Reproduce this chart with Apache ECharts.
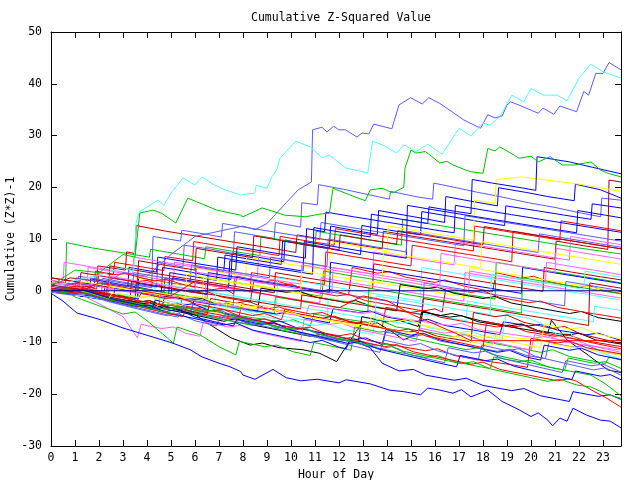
<!DOCTYPE html>
<html><head><meta charset="utf-8">
<script src="https://cdn.jsdelivr.net/npm/echarts@6/dist/echarts.min.js"></script>
<style>html,body{margin:0;padding:0;background:#fff}#c{width:640px;height:480px}</style>
</head><body><div id="c"></div>
<script>
// axis settings (hours 0..23.75, values -30..50)
const xMin = 0, xMax = 23.75, yMin = -30, yMax = 50;

// every line is a list of [hour, cumulative (Z*Z)-1] readings
// upper group
const U1 = [[0,0.5],[0.7,-0.2],[1.6,-1.0],[1.65,2.3],[2.8,1.3],[3.5,0.8],[4.6,-0.2],[4.65,4.5],[5.8,3.6],[6.9,2.6],[7.5,2.2],[7.55,7.3],[8.6,6.5],[9.7,5.6],[9.75,9.8],[10.9,8.8],[11.6,8.3],[11.65,12.5],[12.7,11.6],[13.6,10.9],[13.65,15.5],[14.5,14.8],[15.6,13.9],[16.4,13.2],[16.45,18.2],[17.5,17.3],[18.6,16.4],[18.65,19.9],[19.8,19],[20.7,18.2],[21.8,17.4],[21.85,20.6],[22.9,19.5],[23.75,17.9]];
const U2 = [[0,1],[1.2,0.1],[2.1,-0.6],[2.15,2.4],[3.3,1.4],[4.4,0.7],[4.45,5.5],[5.5,4.6],[5.55,8.8],[6.7,8],[7.6,7.2],[7.65,11.4],[8.8,10.5],[9.3,10.1],[9.35,13.2],[10.4,12.3],[10.45,17],[11.1,16.6],[11.15,20.5],[12.2,19.6],[13.3,18.5],[14.1,17.7],[14.15,19.2],[15.3,18.1],[15.9,17.7],[15.95,20.8],[16.9,19.9],[17.8,19],[18.7,18.2],[19.9,17],[21,16.1],[22.1,15],[22.9,14.3],[22.95,17.9],[23.75,17.5]];
const U3 = [[0,0],[1.1,-0.9],[2.3,-1.8],[2.35,-0.6],[3.6,-1.5],[3.65,2.5],[4.8,1.6],[6,0.7],[6.05,4.6],[7.2,3.7],[7.25,6.9],[8.4,6],[9.6,5.1],[9.65,9.6],[10.8,8.7],[12,7.8],[12.9,7],[12.95,12.6],[14.1,11.7],[15.4,10.8],[15.45,15.3],[16.6,14.4],[17.8,13.4],[18.9,12.6],[18.95,16.4],[20.2,15.5],[21.4,14.6],[22.5,13.8],[22.55,16.8],[23.75,16]];
const U4 = [[0,2],[1,1.1],[1.8,0.6],[1.85,3.8],[2.6,3.2],[2.65,5.5],[3.8,4.6],[4.7,3.9],[4.75,6.6],[5.9,5.8],[5.95,9.5],[7.1,8.6],[8.3,7.7],[9.5,6.8],[9.55,10.5],[10.7,9.6],[11.8,8.8],[11.85,12],[13,11.1],[14.2,10.2],[15.4,9.3],[16.5,8.5],[17.6,7.7],[17.65,12.5],[18.8,11.6],[20,10.7],[21.2,9.8],[21.25,13.5],[22.4,12.6],[23.75,11.6]];
const U5 = [[0,0.5],[0.6,0],[0.65,9.3],[1.7,8.3],[2.9,7.4],[4.1,6.5],[4.15,8],[5.3,7.1],[6.4,6.2],[6.45,8.5],[7.6,7.6],[8.7,6.8],[8.75,10.5],[9.9,9.6],[11,8.8],[11.05,11.5],[12.2,10.6],[13.4,9.7],[14.6,8.8],[14.65,13.8],[15.8,12.9],[17,12],[18.2,11.1],[19.4,10.2],[20.6,9.3],[21.8,8.4],[23,7.6],[23.75,7.1]];
const U6 = [[0,1],[0.8,2.5],[1.9,1.8],[1.95,4.8],[3.1,4],[3.15,7.5],[3.5,7.2],[3.55,12.6],[4.8,11.5],[6,10.6],[7.2,9.7],[8.4,8.8],[9.6,7.9],[10.2,7.4],[10.25,10.8],[11.4,9.9],[12.6,9],[13.8,8.1],[13.85,11.5],[15,10.6],[16.2,9.7],[17.4,8.8],[18.6,7.9],[19.8,7],[21,6.1],[21.05,9.6],[22.2,8.7],[23.2,8],[23.25,21.4],[23.75,21]];
const U7 = [[0,0.5],[1.2,-0.4],[1.25,1.5],[2.4,0.6],[3.5,-0.2],[3.55,2.5],[4.7,1.6],[5.8,0.8],[5.85,4.5],[7,3.6],[8.1,2.8],[8.15,6.5],[9.3,5.6],[10.5,4.7],[11.6,3.9],[11.65,9.5],[12.8,8.6],[14,7.7],[14.05,12.5],[15.2,11.6],[16.4,10.7],[17.6,9.8],[17.65,17.5],[18.5,16.9],[18.55,21.5],[19.6,22],[20.8,21.3],[22,20.6],[23,19.8],[23.75,19.2]];
const U8 = [[0,0],[0.9,1.5],[1.5,1],[1.55,4.5],[2.7,3.6],[3.9,2.7],[5.1,1.8],[5.15,5.5],[6.3,4.6],[7.5,3.7],[8.6,2.9],[8.65,6.8],[9.8,5.9],[11,5],[12.2,4.1],[13.4,3.2],[13.45,7.5],[14.6,6.6],[15.8,5.7],[16.8,5],[16.85,9.5],[18,8.6],[19.2,7.7],[20.4,6.8],[21.6,5.9],[21.65,10.5],[22.8,9.6],[23.75,8.9]];
const U9 = [[0,0.8],[1.1,0],[1.15,2.8],[2.3,2],[3.5,1.1],[4.2,0.6],[4.25,10.5],[5.4,9.6],[5.45,11.7],[6.6,10.8],[7.1,10.4],[7.15,13],[8.3,12.1],[9.5,11.2],[10.7,10.3],[11.2,9.9],[11.25,13.2],[12.4,12.3],[13.6,11.4],[14.8,10.5],[16,9.6],[17.2,8.7],[17.25,14.5],[18.4,13.6],[19.6,12.7],[20.8,11.8],[22,10.9],[23.2,10],[23.75,9.6]];
const U10 = [[0,0],[1.3,-1],[1.35,1.5],[2.5,0.6],[3.7,-0.3],[4.9,-1.2],[4.95,3.5],[6.1,2.6],[6.9,2],[6.95,6.5],[8.1,5.6],[9.3,4.7],[10.5,3.8],[10.55,9.5],[11.7,8.6],[12.9,7.7],[14.1,6.8],[14.8,6.3],[14.85,16.5],[16,15.6],[17.2,14.7],[18.4,13.8],[19.6,12.9],[20.8,12],[21.9,11.2],[21.95,15.5],[23.1,14.6],[23.75,14.1]];
const U11 = [[0,0.3],[1.2,-0.6],[2.3,-1.4],[2.35,1.5],[3.5,0.6],[4.7,-0.3],[4.75,2.5],[5.9,1.6],[7.1,0.7],[8.3,-0.2],[8.35,3.5],[9.5,2.6],[10.7,1.7],[11.4,1.2],[11.45,7.5],[12.6,6.6],[13.8,5.7],[15,4.8],[15.05,8.8],[16.2,7.9],[17.4,7],[18.6,6.1],[19.2,5.6],[19.25,11.5],[20.4,10.6],[21.6,9.7],[22.8,8.8],[23.75,8.1]];
const U12 = [[0,0],[1.1,-0.9],[2.2,-1.7],[2.25,1.5],[3.2,0.8],[3.25,4.5],[4.4,3.6],[4.45,6.5],[5.6,5.6],[6.8,4.7],[7.7,4],[7.75,8.5],[8.9,7.6],[10.1,6.7],[10.6,6.3],[10.65,12],[11.4,11.4],[11.45,15.2],[12.6,14.3],[13.8,13.4],[15,12.5],[16.2,11.6],[16.8,11.2],[16.85,16.5],[18,15.6],[19.2,14.7],[20.4,13.8],[21.6,12.9],[22.8,12],[23.75,11.3]];
const U13 = [[0,0.5],[1,-0.3],[1.05,2.5],[2.2,1.6],[3.4,0.7],[3.45,3.5],[4.6,2.6],[5.8,1.7],[5.85,5],[7,4.1],[8.2,3.2],[9.1,2.5],[9.15,6.5],[10.3,5.6],[11.5,4.7],[11.55,10],[12.7,9.1],[13.9,8.2],[14.8,7.5],[14.85,11.5],[16,10.6],[17.2,9.7],[18.4,8.8],[19.6,7.9],[20.3,7.4],[20.35,11],[21.5,10.1],[22.7,9.2],[23.75,8.4]];
const U14 = [[0,2.5],[1.2,1.6],[1.25,3.5],[2.4,2.6],[3.6,1.7],[3.65,5.8],[4.8,4.9],[6,4],[6.05,8.2],[7.2,7.3],[8.4,6.4],[8.45,10.6],[9.6,9.7],[10.8,8.8],[12,7.9],[12.05,10.8],[13.2,9.9],[14.4,9],[14.45,11.6],[15.6,10.7],[16.8,9.8],[18,8.9],[18.05,12.4],[19.2,11.5],[20.4,10.6],[21.6,9.7],[22.8,8.8],[23.75,8.1]];
const U15 = [[0,0],[1.3,-1],[2.6,-2],[2.65,0.5],[3.8,-0.4],[5,-1.3],[5.05,2.5],[6.2,1.6],[7.4,0.7],[7.45,5.8],[8.6,4.9],[9.8,4],[10.9,3.2],[10.95,12.2],[12.1,11.3],[13.3,10.4],[13.35,14.8],[14.5,13.9],[15.7,13],[15.75,16.2],[16.9,15.3],[17.5,14.9],[17.55,21.5],[18.4,20.8],[19.6,19.9],[20.2,19.4],[20.25,25.9],[21.6,24.9],[22.8,23.6],[23.75,22.6]];

// middle group
const M1 = [[0,1.5],[0.6,1.2],[1.1,1.4],[1.9,0.3],[2,3.5],[2.6,3.1],[3.1,3.3],[4.3,1.9],[4.8,2.2],[5.5,1.2],[6.7,0.2],[7.2,0.5],[7.6,-0.6],[7.75,2.8],[8.8,1.7],[9.3,2],[10,1.1],[11.2,-0.2],[11.6,0.3],[12.4,-0.8],[12.55,4.5],[13.6,3.4],[14.1,3.7],[14.8,2.6],[16,1.6],[16.4,2.1],[17.2,0.9],[18.4,-0.2],[18.55,3.5],[19.6,2.4],[20.1,2.8],[20.8,1.7],[22,0.6],[22.4,1],[23.2,-0.1],[23.75,-0.5]];
const M2 = [[0,0],[1.2,-0.9],[2.4,-1.8],[3.6,-2.7],[3.65,0.5],[4.8,-0.4],[6,-1.3],[6.5,-1.7],[6.55,2.5],[7.7,1.6],[8.9,0.7],[10.1,-0.2],[11.3,-1.1],[11.35,3.8],[12.5,2.9],[13.7,2],[14.9,1.1],[16.1,0.2],[17.3,-0.7],[18.5,-1.6],[18.55,5.5],[19.7,4.6],[20.9,3.7],[22.1,2.8],[23.3,1.9],[23.75,1.5]];
const M3 = [[0,0.5],[1.2,-0.4],[2.4,-1.3],[3.6,-2.2],[4.3,-2.7],[4.35,1.5],[5.5,0.6],[6.7,-0.3],[7.9,-1.2],[9.1,-2.1],[9.4,-2.3],[9.45,2.5],[10.6,1.6],[11.8,0.7],[13,-0.2],[14.2,-1.1],[15.4,-2],[15.45,4.5],[16.6,3.6],[17.8,2.7],[19,1.8],[20.2,0.9],[21.4,0],[22.6,-0.9],[23.75,-1.8]];
const M4 = [[0,2.5],[1.2,1.6],[2.4,0.7],[2.45,4.8],[3.6,3.9],[4.8,3],[6,2.1],[7.2,1.2],[8.4,0.3],[9.3,-0.4],[9.35,3.5],[10.5,2.6],[11.7,1.7],[12.9,0.8],[13.4,0.4],[13.45,5.2],[14.6,4.3],[15.8,3.4],[17,2.5],[18.2,1.6],[19.4,0.7],[20.5,-0.1],[20.55,4.5],[21.7,3.6],[22.9,2.7],[23.75,2.1]];
const M5 = [[0,0],[1.1,-0.9],[1.15,1.5],[2.3,0.6],[3.5,-0.3],[4.7,-1.2],[5.9,-2.1],[6.4,-2.4],[6.45,1.2],[7.6,0.3],[8.8,-0.6],[10,-1.5],[11.2,-2.4],[11.25,2.5],[12.4,1.6],[13.6,0.7],[14.8,-0.2],[16,-1.1],[17.2,-2],[17.25,3.5],[18.4,2.6],[19.6,1.7],[20.8,0.8],[22,-0.1],[23.2,-1],[23.75,-1.4]];
const M6 = [[0,0.5],[1.2,-0.4],[2.4,-1.3],[2.45,0.8],[3.6,-0.1],[4.8,-1],[6,-1.9],[6.3,-2.1],[6.35,2.5],[7.5,1.6],[8.7,0.7],[9.9,-0.2],[11.1,-1.1],[12.3,-2],[13.3,-2.7],[13.35,1.8],[14.5,0.9],[15.7,0],[16.9,-0.9],[17.4,-1.3],[17.45,4.5],[18.6,3.6],[19.8,2.7],[21,1.8],[22.2,0.9],[23.4,0],[23.75,-0.3]];
const M7 = [[0,0],[0.8,-0.4],[1.3,-0.1],[2.4,-1.5],[3.6,-2.6],[4.6,-3.5],[4.75,-1],[5.8,-1.8],[6.3,-1.5],[7,-2.8],[8.2,-3.8],[8.6,-4.1],[8.75,0.5],[9.8,-0.3],[10.3,0],[11,-1.2],[12.2,-2.2],[12.7,-1.9],[13.4,-3.1],[14.4,-3.9],[14.55,1.2],[15.6,0.4],[16.1,0.7],[16.8,-0.5],[18,-1.5],[18.5,-1.1],[19.2,-2.4],[20.4,-3.4],[21.6,-4.4],[22.1,-4],[22.8,-5.2],[23.75,-5.9]];
const M8 = [[0,1],[1.2,0.1],[2.4,-0.8],[3.5,-1.6],[3.55,1.5],[4.7,0.6],[5.9,-0.3],[6.5,-0.7],[6.55,3.5],[7.7,2.6],[8.9,1.7],[10.1,0.8],[11.3,-0.1],[11.6,-0.3],[11.65,5.5],[12.8,4.6],[14,3.7],[15.2,2.8],[16.4,1.9],[17.6,1],[18.8,0.1],[19.6,-0.5],[19.65,4.5],[20.8,3.6],[22,2.7],[23.2,1.8],[23.75,1.4]];
const M9 = [[0,0.3],[1.2,-0.6],[2.4,-1.5],[3.6,-2.4],[4.5,-3.1],[4.55,-0.5],[5.7,-1.4],[6.9,-2.3],[7.6,-2.8],[7.65,2.8],[8.8,1.9],[10,1],[11.2,0.1],[12.4,-0.8],[13.6,-1.7],[14.8,-2.6],[15.5,-3.1],[15.55,1.5],[16.7,0.6],[17.9,-0.3],[19.1,-1.2],[20.3,-2.1],[21.4,-2.9],[21.45,1.8],[22.6,0.9],[23.75,0]];
const M10 = [[0,0.8],[0.7,0.4],[1.2,0.6],[2.3,-0.7],[2.45,2.5],[3.5,1.7],[4,2],[4.7,0.7],[5.9,-0.3],[6.4,0],[7.1,-1.2],[8.3,-2.2],[8.45,1.8],[9.5,1],[10,1.3],[10.7,0],[11.9,-1],[12.4,-0.7],[13.1,-1.9],[14.3,-2.9],[15.5,-3.9],[16,-3.5],[16.3,-4.1],[16.45,0.5],[17.5,-0.3],[18,0],[18.7,-1.3],[19.9,-2.3],[20.4,-2],[21.1,-3.2],[22.3,-4.2],[23.75,-5.3]];
const M11 = [[0,0.5],[1.2,-0.4],[2.4,-1.3],[3.6,-2.2],[4.8,-3.1],[5.4,-3.6],[5.45,-1.5],[6.6,-2.4],[7.8,-3.3],[9,-4.2],[9.3,-4.4],[9.35,-1.2],[10.5,-2.1],[11.7,-3],[12.9,-3.9],[13.2,-4.1],[13.25,0.5],[14.4,-0.4],[15.6,-1.3],[16.8,-2.2],[18,-3.1],[19.2,-4],[19.6,-4.3],[19.65,2.5],[20.8,1.6],[22,0.7],[23.2,-0.2],[23.75,-0.6]];
const M12 = [[0,0],[1.2,-0.9],[2.4,-1.8],[3.6,-2.7],[4.8,-3.6],[6,-4.5],[6.4,-4.8],[6.45,-2.5],[7.6,-3.4],[8.8,-4.3],[10,-5.2],[11.2,-6.1],[11.5,-6.3],[11.55,-1.5],[12.7,-2.4],[13.9,-3.3],[15.1,-4.2],[16.3,-5.1],[17.3,-5.8],[17.35,-2],[18.5,-2.9],[19.7,-3.8],[20.9,-4.7],[22.1,-5.6],[22.6,-6],[22.65,-3],[23.75,-3.8]];
const M13 = [[0,1.2],[1.2,0.3],[2.4,-0.6],[3.3,-1.3],[3.35,1.8],[4.5,0.9],[5.7,0],[6.9,-0.9],[8.1,-1.8],[9.3,-2.7],[10.4,-3.5],[10.45,-0.8],[11.6,-1.7],[12.8,-2.6],[14,-3.5],[15.2,-4.4],[15.45,-4.6],[15.5,-1.5],[16.7,-2.4],[17.9,-3.3],[19.1,-4.2],[20.3,-5.1],[21.5,-6],[22.4,-6.7],[22.45,1.5],[23.75,0.5]];
const M14 = [[0,2],[0.5,1.6],[0.55,5.5],[1.7,4.6],[2.9,3.7],[3.4,3.3],[3.45,6.5],[4.6,5.6],[5.8,4.7],[7,3.8],[8.2,2.9],[9.4,2],[10.4,1.3],[10.45,5],[11.6,4.1],[12.8,3.2],[14,2.3],[15.2,1.4],[16.4,0.5],[17.4,-0.2],[17.45,3.8],[18.6,2.9],[19.8,2],[20.6,1.4],[20.65,5.5],[21.8,4.6],[23,3.7],[23.75,3.1]];
const M15 = [[0,0],[1.2,-0.9],[1.25,1.8],[2.4,0.9],[3.6,0],[4.8,-0.9],[5.6,-1.5],[5.65,3.2],[6.8,2.3],[8,1.4],[9.2,0.5],[10.4,-0.4],[10.45,3.8],[11.6,2.9],[12.8,2],[13.8,1.3],[13.85,7.5],[15,6.6],[16.2,5.7],[17.4,4.8],[17.9,4.4],[17.95,9.5],[19.1,8.6],[20.3,7.7],[21.5,6.8],[22.7,5.9],[23.75,5.1]];
const M16 = [[0,1.5],[1.2,0.6],[2.4,-0.3],[2.45,2.8],[3.6,1.9],[4.8,1],[6,0.1],[6.05,3.6],[7.2,2.7],[8.4,1.8],[9.6,0.9],[10.8,0],[11.7,-0.7],[11.75,4.5],[12.9,3.6],[14.1,2.7],[15.3,1.8],[16.2,1.1],[16.25,7.2],[17.4,6.3],[18.6,5.4],[19.8,4.5],[21,3.6],[21.05,8.2],[22.2,7.3],[23.4,6.4],[23.75,6.1]];
const M17 = [[0,0.5],[1.2,-0.4],[2.4,-1.3],[3.6,-2.2],[4.8,-3.1],[6,-4],[6.8,-4.6],[6.85,-0.5],[8,-1.4],[9.2,-2.3],[10.4,-3.2],[11.6,-4.1],[12.8,-5],[13.5,-5.5],[13.55,-1],[14.7,-1.9],[15.9,-2.8],[17.1,-3.7],[18.3,-4.6],[18.35,3.2],[19.5,2.3],[20.7,1.4],[21.9,0.5],[22.2,0.3],[22.25,3.8],[23.75,2.6]];

// lower group
const L1 = [[0,0],[0.8,-0.3],[1.3,-1.1],[1.8,-0.7],[2.6,-1.9],[3.4,-2.3],[4.2,-3.3],[4.7,-2.9],[5.8,-4.3],[5.95,-2],[6.8,-2.7],[7.3,-2.4],[8.2,-3.6],[9.4,-4.5],[9.9,-4.1],[10.6,-5.3],[11.6,-6.2],[11.75,-3.5],[12.8,-4.2],[13.3,-3.9],[14,-5.1],[15.2,-6],[15.7,-5.5],[16.4,-6.7],[17.6,-7.6],[18.7,-8.5],[18.85,-6],[19.9,-6.8],[20.4,-6.5],[21.1,-7.6],[22.3,-8.5],[22.8,-8.2],[23.75,-9.6]];
const L2 = [[0,0.5],[0.9,0.1],[1.4,-0.6],[2.4,-1.4],[2.9,-1],[3.6,-2.4],[4.8,-3.4],[5.3,-3],[6,-4.3],[7.2,-5.2],[7.8,-5.7],[7.95,-2.5],[9,-3.5],[9.5,-3.1],[10.2,-4.4],[11.4,-5.4],[12.6,-6.3],[13.1,-6],[13.8,-7.1],[13.95,-3.2],[15,-4.2],[15.5,-3.8],[16.2,-5.1],[17.4,-6.1],[18.6,-7],[19.1,-6.6],[19.8,-7.9],[21,-8.8],[21.5,-8.4],[22.2,-9.6],[23.75,-10.8]];
const L3 = [[0,0],[0.7,0.4],[1.2,-0.5],[2.4,-1.1],[2.9,-0.7],[3.6,-1.9],[4.8,-2.7],[6,-3.4],[6.5,-3],[7.2,-4.3],[8.4,-5.2],[9.6,-6],[10.1,-5.6],[10.8,-6.8],[10.95,-4.5],[12,-5.3],[13.2,-6.1],[13.7,-5.7],[14.4,-7],[15.6,-7.9],[16.8,-8.9],[17.3,-8.4],[18,-9.8],[19.2,-10.8],[20.4,-11.9],[20.9,-11.4],[21.6,-12.7],[22.8,-13.8],[23.1,-14.1],[23.25,-12.8],[23.75,-13.4]];
const L4 = [[0,0.2],[0.8,-0.2],[1.2,0.1],[2.4,-1.3],[3.6,-2.2],[4.1,-1.9],[4.8,-3.2],[6,-4.6],[6.6,-6.5],[7.5,-9.1],[8.3,-10.5],[8.8,-10.1],[9.5,-11],[10.5,-11.4],[11.2,-12.1],[11.9,-13.7],[12.1,-12.2],[12.9,-6.6],[13.6,-6.2],[14.2,-7.9],[14.7,-9.5],[15.3,-8.2],[15.5,-4],[16.2,-4.8],[16.7,-4.4],[17.9,-5.8],[19.1,-6.8],[19.6,-6.4],[20.3,-7.7],[21.5,-8.6],[22,-8.2],[22.7,-9.5],[23.75,-10.3]];
const L5 = [[0,0],[1,-0.5],[1.5,-0.2],[2.4,-1.5],[3.6,-2.7],[4.1,-2.3],[4.8,-3.6],[6,-4.7],[7.2,-5.9],[7.7,-5.4],[8.4,-6.6],[9.6,-7.7],[10.8,-8.8],[11.3,-8.4],[12,-9.4],[12.8,-10],[12.95,-5],[14,-6],[14.5,-5.7],[15.3,-6.9],[15.45,-4.1],[16.6,-5.1],[17.1,-4.8],[17.8,-6],[19,-6.9],[20.2,-7.8],[20.7,-8.2],[20.85,-5.7],[21.5,-9.5],[22.4,-12.5],[23.2,-15.3],[23.75,-15.8]];
const L6 = [[0,0.5],[0.9,-0.5],[1.4,-0.1],[2.4,-1.4],[3.6,-2.5],[4.8,-3.6],[5.3,-3.2],[6,-4.4],[7.2,-5.5],[8.4,-6.6],[8.9,-6.1],[9.6,-7.3],[10.8,-8.4],[12,-9.5],[12.5,-9],[13.2,-10.2],[13.8,-10.7],[13.95,-8],[15,-8.9],[15.5,-8.5],[16.2,-9.7],[17.4,-10.7],[18.6,-11.7],[19.1,-11.3],[19.8,-12.5],[20.6,-13.1],[20.75,-10],[21.8,-10.9],[22.3,-10.5],[23,-11.8],[23.75,-12.4]];
const L7 = [[0,0],[0.8,-0.5],[1.3,-0.2],[2.4,-1.5],[2.6,-1.7],[2.75,-0.5],[3.8,-1.3],[4.3,-1],[5,-2.1],[6.2,-3],[7.4,-4],[7.9,-3.6],[8.6,-4.8],[9.8,-5.7],[11,-6.7],[11.5,-6.3],[12.2,-7.5],[13.4,-8.4],[13.55,-5.5],[14.6,-6.3],[15.1,-6],[15.8,-7.2],[17,-8.1],[17.5,-7.8],[18.2,-9],[18.8,-9.5],[18.95,-4.5],[19.9,-5.3],[20.5,-6.5],[21.1,-8.5],[21.6,-8.1],[22.3,-11],[23.75,-13.2]];
const L8 = [[0,0.3],[1,-0.3],[1.5,0.1],[2.4,-1.2],[3.6,-2.3],[4.1,-1.9],[4.8,-3.1],[6,-4.1],[6.5,-4.6],[6.65,-1.5],[7.7,-2.4],[8.2,-2],[8.9,-3.3],[10.1,-4.3],[11.3,-5.3],[11.8,-4.9],[12.5,-6.1],[13.7,-7.1],[14.9,-8],[15.4,-7.6],[16.1,-8.8],[17.3,-9.7],[17.5,-9.9],[17.6,-4.2],[18.5,-5],[19,-4.7],[19.7,-6.1],[20.9,-7.3],[21.4,-6.9],[22.1,-8.4],[23.3,-9.7],[23.75,-10.2]];
const L9 = [[0,1.5],[1.2,0.9],[1.7,1.2],[2.4,0.3],[3.6,-0.5],[4.8,-1.3],[5.3,-0.9],[6,-2],[7.2,-2.8],[8.4,-3.6],[8.9,-3.2],[9.6,-4.3],[10.6,-5],[10.75,-2.8],[11.8,-3.6],[13,-4.4],[13.5,-4],[14.2,-5.1],[15.4,-5.9],[16.6,-6.7],[17.1,-6.3],[17.8,-7.5],[19,-8.3],[20.2,-9.1],[20.7,-8.7],[21.4,-9.9],[22.6,-10.7],[23.75,-11.5]];
const L10 = [[0,0],[1.2,-0.9],[1.7,-0.6],[2.4,-1.8],[3.6,-2.8],[4.4,-3.4],[4.55,-0.5],[5.6,-1.3],[6.1,-1],[6.8,-2.2],[8,-3.1],[9.2,-4],[9.7,-3.6],[10.4,-4.8],[11.6,-5.7],[12.8,-6.6],[13.3,-6.2],[14,-7.4],[15.2,-8.3],[16.4,-9.2],[16.9,-8.8],[17.6,-10],[18.4,-10.6],[18.55,-8.5],[19.6,-9.3],[20.1,-9],[20.8,-10.2],[22,-11.1],[23.2,-12],[23.75,-12.4]];
const L11 = [[0,0.5],[0.8,0.1],[1.3,0.4],[2.4,-0.9],[3.6,-1.9],[4.8,-2.9],[5.3,-2.5],[6,-3.8],[7.2,-4.8],[8.4,-5.8],[8.9,-5.4],[9.6,-6.7],[10.8,-7.7],[12,-8.7],[12.5,-8.3],[13.2,-9.6],[14.4,-10.6],[15.6,-11.6],[16.1,-11.2],[16.8,-12.5],[18,-13.5],[19.2,-14.3],[19.85,-14.8],[20,-9.2],[21.1,-10.1],[21.6,-9.7],[22.3,-11],[23.75,-12.2]];
const L12 = [[0,0],[0.7,-0.5],[1.2,-0.2],[2.4,-1.6],[3.6,-2.9],[4.2,-3.5],[4.35,-1.8],[5.4,-2.9],[5.9,-2.5],[6.6,-3.8],[7.8,-5],[9,-6.2],[9.5,-5.8],[10.2,-7.1],[11.4,-8.3],[12.6,-9.5],[13.1,-9.1],[13.8,-10.4],[13.95,-7.5],[15,-8.6],[15.5,-8.2],[16.2,-9.5],[17.4,-10.7],[18.6,-11.9],[19.1,-11.5],[19.8,-12.8],[20.4,-13.4],[20.55,-10.5],[21.6,-11.5],[22.1,-11.1],[22.8,-12.4],[23.75,-13.3]];
const L13 = [[0,0.2],[1,-0.6],[1.5,-0.3],[2.4,-1.4],[3.6,-2.5],[4.8,-3.6],[5.3,-3.2],[6,-4.5],[7.2,-5.6],[8.4,-6.7],[8.9,-6.3],[9.6,-7.6],[10.8,-8.7],[12,-9.8],[12.5,-9.4],[13.2,-10.7],[14.4,-11.8],[15.6,-12.9],[16.1,-12.5],[16.8,-13.7],[18,-14.8],[18.3,-15],[18.45,-12.8],[19.5,-13.7],[20,-13.4],[20.7,-14.7],[21.9,-15.8],[22.5,-16.3],[23.1,-18],[23.75,-20.3]];
const L14 = [[0,0.5],[0.6,-0.4],[1,-0.2],[2,-2.5],[3,-5],[3.6,-9.1],[3.75,-6.5],[4.6,-7.3],[5.1,-7],[5.6,-8.2],[6.2,-8.8],[6.35,-6],[7.4,-7],[7.9,-6.7],[8.6,-8],[9.8,-9.2],[10.4,-9.8],[10.55,-5.5],[11.6,-6.5],[12.1,-6.2],[12.8,-7.5],[14,-8.6],[15.2,-9.8],[15.35,-7.2],[16.4,-8.2],[16.9,-7.9],[17.6,-9.2],[18.8,-10.3],[20,-11.5],[20.15,-8.5],[21.2,-9.5],[21.7,-9.1],[22.4,-10.5],[23.75,-11.9]];
const L15 = [[0,0],[0.5,0.3],[1,-1.2],[2,-2.9],[3,-4.5],[3.5,-4.1],[4,-5.8],[5.1,-10.1],[5.25,-7],[6.2,-8.5],[7,-10.8],[7.7,-12.4],[7.85,-9.8],[8.9,-10.8],[9.4,-10.5],[10.1,-11.8],[10.8,-12.5],[10.95,-10],[12,-11],[12.5,-11.5],[12.65,-7],[13.7,-8],[14.2,-7.7],[14.9,-9],[16.1,-10.2],[17.3,-11.4],[17.8,-11],[18.5,-12.4],[19.7,-13.6],[20.9,-14.9],[21.4,-15.4],[21.55,-13],[22.6,-14],[23.1,-13.7],[23.75,-15]];
const L16 = [[0,-0.3],[0.8,-0.8],[1.3,-0.5],[2.4,-2.1],[3.6,-3.5],[4.8,-4.8],[5.3,-4.4],[6,-5.8],[6.9,-6.8],[7.05,-4.8],[8.1,-6],[9.3,-7.3],[9.8,-6.9],[10.5,-8.4],[11.7,-9.7],[12.9,-11],[13.7,-11.9],[13.85,-9.5],[14.9,-10.6],[15.4,-10.2],[16.1,-11.6],[17.3,-12.9],[17.8,-13.4],[17.95,-10.5],[19,-11.6],[19.5,-11.2],[20.2,-12.7],[21.4,-14],[22.6,-15.3],[23.1,-14.9],[23.75,-16.3]];
const L17 = [[0,1],[0.6,0.6],[1.1,0.9],[2.4,-0.6],[3.6,-1.9],[3.75,-0.5],[4.8,-1.5],[5.3,-1.2],[6,-2.5],[7.2,-3.6],[8.4,-4.8],[8.9,-4.4],[9.6,-5.6],[9.75,-3.5],[10.8,-4.5],[11.3,-4.2],[12,-5.5],[13.2,-6.6],[14.4,-7.8],[14.9,-7.4],[15.6,-8.7],[16.8,-9.8],[18,-11],[18.15,-6],[19.2,-7],[19.7,-6.7],[20.4,-8],[21.6,-9.1],[22.8,-10.3],[23.75,-11.2]];
const L18 = [[0,0],[0.8,-0.4],[1.3,-0.1],[2.4,-1.6],[2.55,-0.4],[3.6,-1.3],[4.1,-1],[4.8,-2.3],[6,-3.4],[7.2,-4.5],[7.35,-2.2],[8.4,-3.1],[8.9,-2.8],[9.6,-4],[10.8,-5.1],[12,-6.2],[13.2,-7.3],[13.35,-5],[14.4,-5.9],[14.9,-5.6],[15.6,-6.8],[16.8,-7.9],[18,-9],[18.5,-8.6],[19.2,-9.9],[20.4,-11],[20.55,-6.5],[21.6,-7.4],[22.1,-7.1],[22.8,-8.4],[23.75,-9.3]];

// low group
const B1 = [[0,0],[0.8,-0.6],[1.3,-0.4],[2.4,-1.9],[3.6,-3.1],[4.1,-2.8],[4.8,-4.2],[6,-5.4],[7.2,-6.6],[7.7,-6.2],[8.4,-7.6],[9.6,-8.8],[10.8,-10],[11.3,-9.6],[12,-10.9],[12.3,-11.2],[12.45,-9.5],[13.3,-11],[13.8,-14],[14.5,-15.5],[15.1,-15.2],[15.6,-16.3],[16.8,-17.3],[17.3,-16.9],[18,-18.3],[19.2,-19.3],[19.7,-18.9],[20.4,-20.3],[21.6,-21.4],[21.75,-19.5],[22.8,-20.4],[23.3,-20.1],[23.75,-21]];
const B2 = [[0,0],[0.9,-0.8],[1.4,-0.5],[2.4,-2],[3.6,-3.3],[4.8,-4.6],[5.3,-5.1],[5.45,-3],[6.5,-4],[7,-3.7],[7.7,-5],[8.9,-6.3],[10.1,-7.6],[10.6,-7.2],[11.3,-8.6],[12.5,-9.9],[13.7,-11.2],[14.2,-10.8],[14.9,-12.3],[16.1,-13.6],[16.4,-13.9],[16.55,-11],[17.6,-12],[18.1,-11.7],[18.8,-13.1],[20,-14.4],[21.2,-15.7],[21.3,-15.8],[21.45,-13.5],[22.5,-14.5],[23,-14.2],[23.75,-15.7]];
const B3 = [[0,0],[0.7,-0.4],[1.2,-0.2],[2.4,-1.7],[3.6,-3],[4.8,-4.3],[5.5,-5],[5.65,-3],[6.7,-3.9],[7.2,-3.6],[7.9,-5],[9.1,-6.2],[10.3,-7.4],[10.8,-7],[11.5,-8.4],[12.7,-9.6],[13.9,-10.8],[14.4,-10.4],[15.1,-11.8],[16.3,-13],[17.5,-14.2],[18,-13.8],[18.7,-15.2],[19.9,-16.3],[21.1,-17.4],[21.6,-17],[21.9,-17.5],[22.6,-19.4],[23.1,-20.6],[23.75,-22.5]];
const B4 = [[0,0.5],[0.8,-0.1],[1.3,0.2],[2.4,-1.4],[3.6,-2.7],[4.8,-4],[5.3,-3.6],[6,-5.1],[7.2,-6.4],[7.6,-6.8],[7.75,-5.5],[8.8,-6.5],[9.3,-6.2],[10,-7.6],[11.2,-8.9],[12.4,-10.2],[12.9,-9.8],[13.6,-11.2],[14.8,-12.5],[16,-13.8],[16.9,-14.7],[17.05,-12.5],[18.1,-13.5],[18.6,-13.2],[19.3,-14.6],[20.5,-15.9],[21.7,-17.2],[21.85,-15.5],[22.9,-16.5],[23.3,-16.2],[23.75,-17.2]];
const B5 = [[0,0],[1,-0.6],[1.5,-0.4],[2.4,-1.7],[3.6,-2.9],[4.8,-4.1],[5.1,-4.4],[5.25,-3],[6.3,-4],[6.8,-3.7],[7.5,-5],[8.7,-6.2],[9.9,-7.4],[10.4,-7],[11.1,-8.3],[12.3,-9.5],[13.5,-10.7],[14,-10.3],[14.7,-11.7],[15.9,-12.9],[17.1,-14.1],[17.6,-13.7],[18.3,-15.1],[19.5,-16.3],[20.7,-17.5],[21.2,-17.1],[21.9,-18.2],[22.5,-18.6],[23.1,-19.9],[23.75,-20.8]];

// outliers and special lines
const topBlue = [[0,0],[1,1.5],[2,0.8],[3,3.5],[4,2.8],[5,7],[6,10.5],[7,11.5],[8,12.5],[8.5,11.8],[9,13],[9.8,17],[10.3,19.5],[10.85,21],[10.9,31.1],[11.29,31.6],[11.5,30.7],[11.78,31.8],[11.99,31.1],[12.27,31.1],[12.75,29.7],[12.96,30.5],[13.24,30.3],[13.45,32.2],[14.2,31.3],[14.5,35.9],[14.98,37.3],[15.47,36.1],[15.74,37.3],[16.2,36.2],[16.8,34.3],[17.2,33],[17.9,31.4],[18.2,34],[18.5,33.4],[18.8,33.8],[19,35.9],[19.15,36.5],[19.6,35.7],[20.3,34.3],[20.5,35.3],[20.95,34.1],[21.2,35.7],[21.9,34.6],[22.2,38.5],[22.4,37.8],[22.7,42],[23,42],[23.25,44.1],[23.75,42.7]];
const topCyan = [[0,0.5],[1,2],[2,3],[3,4.5],[3.45,3.8],[3.55,13.3],[3.7,15.3],[4.46,17.5],[4.7,16.5],[5,18.9],[5.5,21.8],[6,20.4],[6.3,22],[6.75,20.6],[7.25,19.5],[7.9,18.5],[8.5,18.9],[8.55,20.4],[9,19.8],[9.2,22],[9.4,23.3],[9.54,25.6],[10.2,28.9],[10.8,27.8],[11.3,25.7],[11.6,26.2],[12.3,23.7],[13.2,22.8],[13.4,28.9],[13.8,28.2],[14.4,26.6],[14.7,28.2],[15.2,26.9],[15.7,28.3],[16.3,26.4],[17,31.4],[17.5,29.9],[18,32.4],[18.3,32],[18.7,33.6],[19.2,37.8],[19.7,36.5],[20,39.1],[20.5,37.8],[21.1,37.8],[21.5,36.7],[22,41.1],[22.5,43.8],[23,42.3],[23.75,41.1]];
const topGreen = [[0,1],[1,4],[2,3.5],[3,7],[3.5,6.5],[3.7,15],[4.25,15.6],[4.6,15],[5.2,13.1],[5.7,17.9],[6.9,15.6],[7.5,15],[7.9,14.6],[8,14.3],[8.8,16],[9.75,14.6],[10.6,14.3],[11.2,14.8],[11.6,15],[11.75,19.8],[12.8,17.9],[13.1,17.4],[13.3,19.5],[13.8,19.8],[14.25,18.9],[14.7,20],[14.75,23.7],[15,27.2],[15.2,26.6],[15.6,26.9],[16.2,24.7],[16.5,25],[16.75,24.3],[17.3,23.3],[17.5,23],[18,22.7],[18.2,27.5],[18.5,27],[18.7,27.8],[19.3,26.2],[19.5,25.6],[20,26],[20.3,24.9],[20.8,25.9],[21.3,24.3],[21.8,24.3],[22.5,24.9],[22.9,23.3],[23.2,22.7],[23.75,22]];
const lowBlue = [[0,-0.5],[0.5,-2],[1.08,-4.3],[2,-5.5],[3,-7.2],[4,-8.6],[5,-10],[5.8,-11.4],[6.3,-12.8],[7,-14],[7.46,-14.7],[7.9,-15.6],[8,-16.3],[8.5,-17.1],[9.25,-15.2],[9.8,-16.8],[10.4,-17.4],[11.1,-17.1],[12,-17.8],[12.3,-17.2],[13.3,-18],[14.1,-19.2],[14.7,-19.5],[15.4,-20.1],[15.7,-18.8],[16.2,-19.2],[16.75,-19.8],[17.1,-19.1],[17.5,-20.5],[18.2,-19.2],[18.8,-21.4],[19.5,-23],[20,-24.3],[20.3,-23.6],[20.7,-25],[20.9,-26.1],[21.2,-24.6],[21.5,-25.2],[21.75,-22.7],[22.3,-24],[22.9,-25],[23.3,-25.2],[23.75,-26.5]];
const flatRed = [[0,0.5],[1,-0.5],[2,1.5],[3,0.7],[4,-0.2],[5,-1],[6,1.8],[7,1],[8,0.2],[9,-0.7],[10,-1.6],[11,-2.4],[12,-3.3],[13,-1],[14,-1.9],[15,-4.5],[16,-6.5],[17,-8.5],[17.5,-9.65],[23.75,-9.65]];
const zeroLine = [[0,0],[23.75,0]];

// colours (style, kept apart from the data)
const C = {red:'#ff0000', green:'#00c000', blue:'#0000ff', lblue:'#5a5aff', pink:'#ff60ff', cyan:'#50ffff', dred:'#b00000', yellow:'#ffff00', black:'#000000', navy:'#000090'};

const lines = [
  [U1,'blue'],[U2,'lblue'],[U3,'blue'],[U4,'red'],[U5,'green'],[U6,'dred'],[U7,'yellow'],[U8,'pink'],[U9,'lblue'],[U10,'blue'],[U11,'red'],[U12,'blue'],[U13,'lblue'],[U14,'dred'],[U15,'blue'],
  [M1,'red'],[M2,'green'],[M3,'cyan'],[M4,'dred'],[M5,'pink'],[M6,'yellow'],[M7,'black'],[M8,'blue'],[M9,'lblue'],[M10,'red'],[M11,'green'],[M12,'cyan'],[M13,'dred'],[M14,'pink'],[M15,'yellow'],[M16,'pink'],[M17,'cyan'],
  [L1,'blue'],[L2,'red'],[L3,'green'],[L4,'black'],[L5,'black'],[L6,'lblue'],[L7,'cyan'],[L8,'dred'],[L9,'pink'],[L10,'yellow'],[L11,'red'],[L12,'blue'],[L13,'green'],[L14,'pink'],[L15,'green'],[L16,'lblue'],[L17,'red'],[L18,'yellow'],
  [B1,'blue'],[B2,'lblue'],[B3,'red'],[B4,'blue'],[B5,'green'],
  [topBlue,'lblue'],[topCyan,'cyan'],[topGreen,'green'],[lowBlue,'blue'],[flatRed,'red'],[zeroLine,'navy']
];

const series = lines.map(([pts,col])=>({
  type:'line', data: pts, showSymbol:false, symbol:'none', silent:true,
  lineStyle:{width:1, color:C[col]}, itemStyle:{color:C[col]}
}));

const font = 'DejaVu Sans Mono';
const lab = {color:'#000', fontFamily:font, fontSize:11.5};
const axisBase = {
  axisLine:{show:true, onZero:false, lineStyle:{color:'#000', width:1}},
  axisTick:{show:true, inside:true, length:6, lineStyle:{color:'#000'}},
  splitLine:{show:false}
};
const chart = echarts.init(document.getElementById('c'), null, {renderer:'canvas'});
chart.setOption({
  animation:false,
  backgroundColor:'#fff',
  title:{text:'Cumulative Z-Squared Value', left:336, textAlign:'center', top:7,
    textStyle:{color:'#000', fontFamily:font, fontSize:11.5, fontWeight:'normal'}},
  graphic:[{type:'text', x:11, y:239, rotation:Math.PI/2,
    style:{text:'Cumulative (Z*Z)-1', fill:'#000', font:'11.5px "DejaVu Sans Mono"', align:'center', verticalAlign:'middle'}}],
  grid:{left:51, right:19, top:32, bottom:34, show:false, containLabel:false, outerBoundsMode:'none'},
  xAxis:[
    {type:'value', min:xMin, max:xMax, interval:1, position:'bottom', ...axisBase,
     name:'Hour of Day', nameLocation:'middle', nameGap:21, nameTextStyle:lab,
     axisLabel:{...lab, margin:6, showMaxLabel:false, formatter:v=>Number.isInteger(v)?String(v):''}},
    {type:'value', min:xMin, max:xMax, interval:1, position:'top', ...axisBase, axisLabel:{show:false}}
  ],
  yAxis:[
    {type:'value', min:yMin, max:yMax, interval:10, position:'left', ...axisBase,
     axisLabel:{...lab, margin:9}},
    {type:'value', min:yMin, max:yMax, interval:10, position:'right', ...axisBase, axisLabel:{show:false}}
  ],
  series: series
});
</script>
</body></html>
